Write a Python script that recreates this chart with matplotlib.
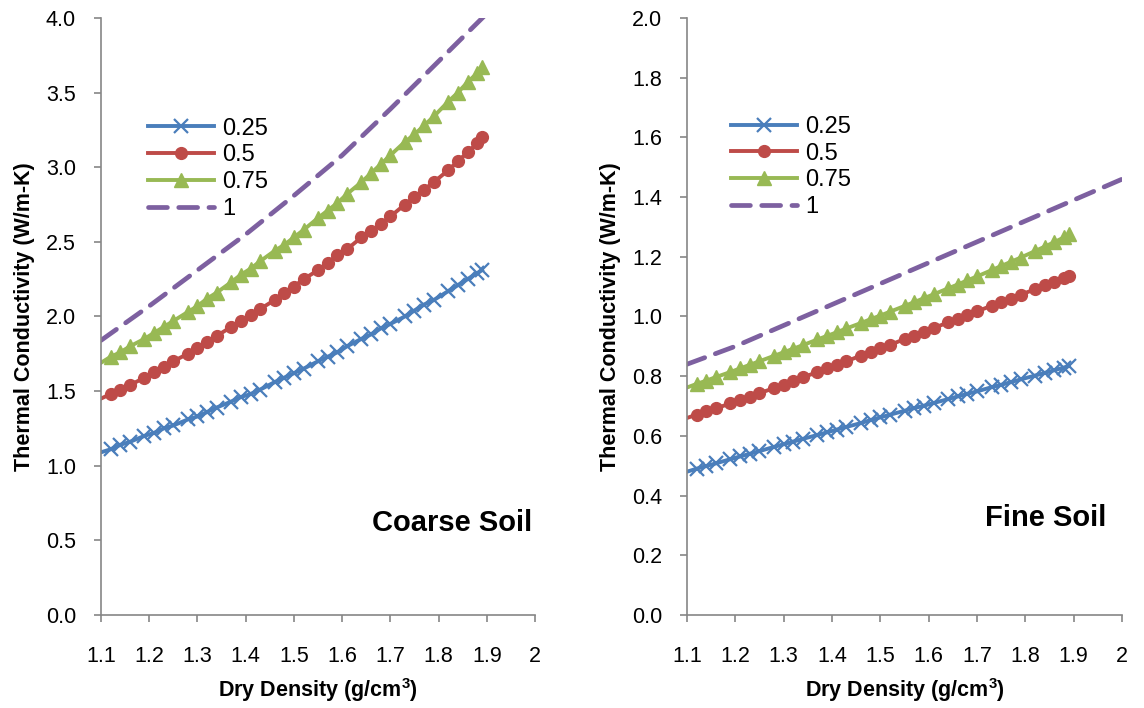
import matplotlib
matplotlib.use("Agg")
import matplotlib.pyplot as plt

plt.rcParams['font.family'] = ['Liberation Sans', 'DejaVu Sans']

# dry density values (g/cm3) of the marked series
density = [1.10, 1.12, 1.14, 1.16, 1.19, 1.21, 1.23, 1.25, 1.28, 1.30, 1.32, 1.34,
           1.37, 1.39, 1.41, 1.43, 1.46, 1.48, 1.50, 1.52, 1.55, 1.57, 1.59, 1.61,
           1.64, 1.66, 1.68, 1.70, 1.73, 1.75, 1.77, 1.79, 1.82, 1.84, 1.86, 1.88, 1.89]
# dry density for the saturation = 1 series (dashed line)
density_sat = [1.1, 1.2, 1.3, 1.4, 1.5, 1.6, 1.7, 1.8, 1.9, 2.0]

# coarse soil
coarse_025 = [1.09, 1.11, 1.14, 1.16, 1.20, 1.22, 1.25, 1.27, 1.31, 1.33, 1.36, 1.39,
              1.43, 1.46, 1.48, 1.51, 1.56, 1.59, 1.62, 1.65, 1.70, 1.73, 1.76, 1.80,
              1.85, 1.88, 1.92, 1.95, 2.00, 2.04, 2.08, 2.11, 2.17, 2.21, 2.25, 2.29, 2.31]
coarse_05 = [1.45, 1.48, 1.51, 1.54, 1.59, 1.63, 1.66, 1.70, 1.75, 1.79, 1.83, 1.87,
             1.93, 1.97, 2.01, 2.05, 2.11, 2.16, 2.20, 2.25, 2.31, 2.36, 2.41, 2.45,
             2.53, 2.57, 2.62, 2.67, 2.75, 2.80, 2.85, 2.90, 2.98, 3.04, 3.10, 3.16, 3.20]
coarse_075 = [1.69, 1.73, 1.76, 1.80, 1.85, 1.89, 1.93, 1.97, 2.03, 2.07, 2.12, 2.16,
              2.23, 2.28, 2.32, 2.37, 2.44, 2.48, 2.53, 2.58, 2.66, 2.71, 2.76, 2.82,
              2.90, 2.96, 3.02, 3.08, 3.17, 3.22, 3.28, 3.34, 3.44, 3.50, 3.57, 3.63, 3.67]
coarse_1 = [1.84, 2.07, 2.31, 2.55, 2.81, 3.08, 3.39, 3.71, 4.03, 4.35]

# fine soil
fine_025 = [0.480, 0.490, 0.499, 0.508, 0.522, 0.531, 0.540, 0.549, 0.563, 0.572, 0.581, 0.590,
            0.603, 0.612, 0.621, 0.630, 0.643, 0.653, 0.662, 0.671, 0.684, 0.693, 0.701, 0.710,
            0.723, 0.732, 0.741, 0.749, 0.763, 0.771, 0.780, 0.789, 0.802, 0.811, 0.820, 0.829, 0.834]
fine_05 = [0.660, 0.671, 0.682, 0.692, 0.709, 0.720, 0.731, 0.743, 0.760, 0.772, 0.784, 0.796,
           0.814, 0.826, 0.838, 0.850, 0.869, 0.881, 0.893, 0.905, 0.924, 0.936, 0.949, 0.961,
           0.980, 0.992, 1.005, 1.017, 1.036, 1.048, 1.060, 1.073, 1.091, 1.104, 1.116, 1.128, 1.135]
fine_075 = [0.762, 0.774, 0.785, 0.797, 0.814, 0.826, 0.838, 0.850, 0.868, 0.880, 0.892, 0.904,
            0.923, 0.935, 0.947, 0.960, 0.978, 0.991, 1.003, 1.016, 1.035, 1.048, 1.061, 1.074,
            1.094, 1.107, 1.121, 1.134, 1.155, 1.169, 1.183, 1.197, 1.219, 1.234, 1.249, 1.265, 1.275]
fine_1 = [0.84, 0.90, 0.97, 1.04, 1.11, 1.18, 1.25, 1.32, 1.39, 1.46]

labels = ['0.25', '0.5', '0.75', '1']
colors = ['#4A7EBB', '#BE4B48', '#98B954', '#7D60A0']
xticks = [1.1, 1.2, 1.3, 1.4, 1.5, 1.6, 1.7, 1.8, 1.9, 2.0]
xticklabels = ['1.1', '1.2', '1.3', '1.4', '1.5', '1.6', '1.7', '1.8', '1.9', '2']

fig = plt.figure(figsize=(11.44, 7.08), dpi=100)
ax1 = fig.add_axes([0.0883, 0.1314, 0.3794, 0.8432])
ax2 = fig.add_axes([0.6005, 0.1314, 0.3803, 0.8432])

panels = [
    (ax1, [coarse_025, coarse_05, coarse_075], coarse_1, 4.0, 0.5, 'Coarse Soil',
     (0.809, 0.154), (0.108, 0.833)),
    (ax2, [fine_025, fine_05, fine_075], fine_1, 2.0, 0.2, 'Fine Soil',
     (0.825, 0.162), (0.101, 0.836)),
]

for ax, series, sat, ymax, ystep, name, name_pos, leg_pos in panels:
    ax.plot(density, series[0], color=colors[0], lw=2.8, marker='x', ms=9.5, mew=1.6,
            markevery=slice(1, None), label=labels[0])
    ax.plot(density, series[1], color=colors[1], lw=2.8, marker='o', ms=8.5,
            markevery=slice(1, None), label=labels[1])
    ax.plot(density, series[2], color=colors[2], lw=2.8, marker='^', ms=9.5,
            markevery=slice(1, None), label=labels[2])
    ax.plot(density_sat, sat, color=colors[3], lw=3.4, dashes=(4.0, 2.4),
            dash_capstyle='round', label=labels[3])

    ax.set_xlim(1.1, 2.0)
    ax.set_ylim(0, ymax)
    ax.set_xticks(xticks)
    ax.set_xticklabels(xticklabels)
    yt = [i * ystep for i in range(int(round(ymax / ystep)) + 1)]
    ax.set_yticks(yt)
    ax.set_yticklabels(['%.1f' % v for v in yt])

    for s in ['top', 'right']:
        ax.spines[s].set_visible(False)
    for s in ['left', 'bottom']:
        ax.spines[s].set_color('#868686')
        ax.spines[s].set_linewidth(1.2)
    ax.tick_params(axis='both', colors='#868686', length=5, width=1.2, labelsize=15.5,
                   labelcolor='black')
    ax.tick_params(axis='x', pad=17)
    ax.tick_params(axis='y', pad=13)

    ax.set_xlabel('Dry Density (g/cm$^\\mathregular{3}$)', fontsize=15.5, fontweight='bold',
                  labelpad=7)
    ax.set_ylabel('Thermal Conductivity (W/m-K)', fontsize=15.5, fontweight='bold',
                  labelpad=8)

    ax.text(name_pos[0], name_pos[1], name, transform=ax.transAxes, fontsize=21,
            fontweight='bold', ha='center', va='center')

    ax.legend(loc='upper left', bbox_to_anchor=leg_pos, frameon=False, fontsize=17,
              handlelength=2.8, handletextpad=0.35, labelspacing=0.2, borderpad=0,
              borderaxespad=0)

fig.savefig('out.png', dpi=100)
